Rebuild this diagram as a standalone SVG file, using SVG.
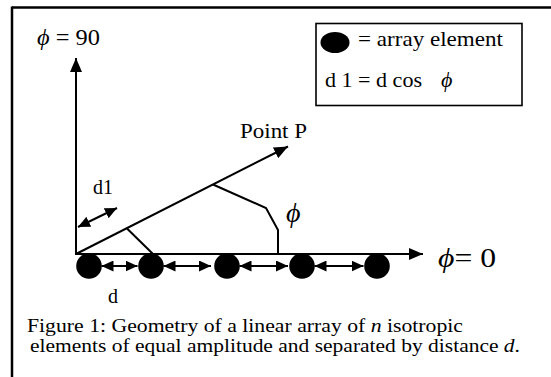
<svg xmlns="http://www.w3.org/2000/svg" width="551" height="377" viewBox="0 0 551 377">
<style>
text{font-family:"Liberation Serif","Times New Roman",serif;fill:#000}
.ln{stroke:#000;stroke-width:2;fill:none}
.dot{fill:#000}
.it{font-style:italic}
</style>
<defs>
<marker id="ah" markerUnits="userSpaceOnUse" viewBox="0 0 14 12" refX="14" refY="6" markerWidth="14" markerHeight="12" orient="auto-start-reverse">
<path d="M0,0 L14,6 L0,12 Z" fill="#000"/>
</marker>
<marker id="ahs" markerUnits="userSpaceOnUse" viewBox="0 0 12 11" refX="12" refY="5.5" markerWidth="12" markerHeight="11" orient="auto-start-reverse">
<path d="M0,0 L12,5.5 L0,11 Z" fill="#000"/>
</marker>
</defs>
<g id="frame">
<line x1="12" y1="7.5" x2="551" y2="7.5" stroke="#000" stroke-width="2.5"/>
<line x1="12" y1="6.5" x2="12" y2="377" stroke="#000" stroke-width="2.5"/>
</g>
<g id="legend">
<rect x="316" y="23.5" width="206" height="82" fill="#fff" stroke="#000" stroke-width="1.6"/>
<ellipse cx="335" cy="42.5" rx="14.5" ry="10.5" class="dot"/>
<text x="358" y="46" font-size="21" textLength="145" lengthAdjust="spacingAndGlyphs">= array element</text>
<text x="325" y="87" font-size="21" textLength="97" lengthAdjust="spacingAndGlyphs">d 1 = d cos</text>
<text x="441" y="87" font-size="22" class="it">ϕ</text>
</g>
<g id="connectors">
<line class="ln" x1="76" y1="255" x2="76" y2="58" marker-end="url(#ah)"/>
<line class="ln" x1="75" y1="254" x2="423" y2="254" marker-end="url(#ah)"/>
<line class="ln" x1="76" y1="254" x2="288" y2="146.5" marker-end="url(#ah)"/>
<line class="ln" x1="127" y1="228.5" x2="153" y2="254"/>
<polyline class="ln" points="213,184.5 266,208 278,230 278,254"/>
<line class="ln" x1="78" y1="227" x2="117" y2="208" marker-start="url(#ahs)" marker-end="url(#ahs)"/>
<line class="ln" x1="101.5" y1="266" x2="137.5" y2="266" marker-start="url(#ahs)" marker-end="url(#ahs)"/>
<line class="ln" x1="163.5" y1="266" x2="211" y2="266" marker-start="url(#ahs)" marker-end="url(#ahs)"/>
<line class="ln" x1="239.5" y1="266" x2="288" y2="266" marker-start="url(#ahs)" marker-end="url(#ahs)"/>
<line class="ln" x1="314.5" y1="266" x2="363.5" y2="266" marker-start="url(#ahs)" marker-end="url(#ahs)"/>
</g>
<g id="elements">
<circle cx="89" cy="266" r="12.8" class="dot"/>
<circle cx="151" cy="266" r="12.8" class="dot"/>
<circle cx="227" cy="266" r="12.8" class="dot"/>
<circle cx="302" cy="266" r="12.8" class="dot"/>
<circle cx="377" cy="266" r="12.8" class="dot"/>
</g>
<g id="labels">
<text x="37" y="45" font-size="23" textLength="63" lengthAdjust="spacingAndGlyphs"><tspan class="it">ϕ</tspan> = 90</text>
<text x="438" y="267" font-size="28" textLength="58" lengthAdjust="spacingAndGlyphs"><tspan class="it">ϕ</tspan>= 0</text>
<text x="240" y="138" font-size="21" textLength="67" lengthAdjust="spacingAndGlyphs">Point P</text>
<text x="286" y="222" font-size="28" class="it">ϕ</text>
<text x="93" y="194" font-size="20">d1</text>
<text x="108" y="303" font-size="20">d</text>
</g>
<g id="caption">
<text x="27" y="332" font-size="19" textLength="436" lengthAdjust="spacingAndGlyphs">Figure 1: Geometry of a linear array of <tspan class="it">n</tspan> isotropic</text>
<text x="30" y="352" font-size="19" textLength="490" lengthAdjust="spacingAndGlyphs">elements of equal amplitude and separated by distance <tspan class="it">d</tspan>.</text>
</g>
</svg>
